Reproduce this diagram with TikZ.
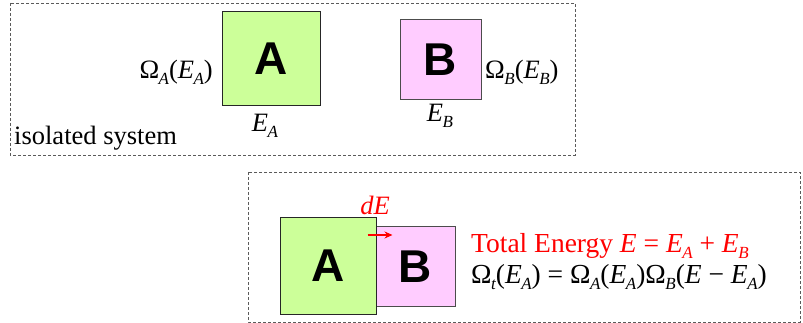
\documentclass[tikz,border=0pt]{standalone}
\usepackage{fontspec}
\setmainfont{Liberation Serif}
\newfontfamily\boxfont{Liberation Sans}
\newfontfamily\labelfont{Liberation Serif}
\usetikzlibrary{arrows.meta,positioning}
\definecolor{sysgreen}{RGB}{204,255,153}
\definecolor{syspink}{RGB}{255,204,255}
\definecolor{framegray}{RGB}{90,90,90}
\newcommand{\ssub}[1]{\kern-0.5pt\lower6pt\hbox{\fontsize{17}{17}\selectfont\itshape #1}}
\newcommand{\En}[1]{\textit{E}\ssub{#1}}
\newcommand{\Om}{\textup{Ω}}

\begin{document}
\begin{tikzpicture}[x=1pt, y=-1pt,
  every node/.style={inner sep=0pt, font=\labelfont\fontsize{26.5}{28}\selectfont},
  sysframe/.style={draw=framegray, dashed, dash pattern=on 3pt off 2pt, line width=0.7pt},
  greenbox/.style={draw=black!85, line width=1pt, fill=sysgreen, font=\boxfont\bfseries\fontsize{46}{46}\selectfont},
  pinkbox/.style={draw=black!70, line width=1pt, fill=syspink, font=\boxfont\bfseries\fontsize{46}{46}\selectfont}]
\useasboundingbox (0,0) rectangle (803,323);
% isolated system
\draw[sysframe] (10,3) rectangle (575,155);
\node[greenbox, minimum width=98pt, minimum height=94pt] (boxA) at (271,59) {A};
\node[pinkbox, minimum width=81pt, minimum height=80pt] (boxB) at (440.5,60) {B};
\node[anchor=east] (omegaA) at (213,72) {\Om\ssub{A}(\En{A})};
\node[anchor=west] (omegaB) at (485,72) {\Om\ssub{B}(\En{B})};
\node (energyA) at (265,126) {\En{A}};
\node (energyB) at (440,116) {\En{B}};
\node[anchor=south west] (isolated) at (14,150) {isolated system};
% systems in contact
\draw[sysframe] (248,172) rectangle (800,322);
\node[pinkbox, minimum width=79pt, minimum height=79pt] (contactB) at (415.5,266.5) {B};
\node[greenbox, minimum width=96pt, minimum height=96pt] (contactA) at (328,266) {A};
\node[text=red] (dE) at (375,205) {\textit{dE}};
\coordinate (flowstart) at ([xshift=-9pt,yshift=31pt]contactA.east);
\coordinate (flowend) at ([xshift=16pt,yshift=31pt]contactA.east);
\draw[red, line width=1.5pt, -{Stealth[length=8pt,width=7pt]}] (flowstart) -- (flowend);
\node[anchor=west, text=red, font=\labelfont\fontsize{27.5}{28}\selectfont] (total) at (471,246) {Total Energy \textit{E} = \En{A} + \En{B}};
\node[anchor=west, font=\labelfont\fontsize{27.5}{28}\selectfont] (omegaT) at (471,277) {\Om\ssub{t}(\En{A}) = \Om\ssub{A}(\En{A})\Om\ssub{B}(\textit{E} − \En{A})};
\end{tikzpicture}
\end{document}
